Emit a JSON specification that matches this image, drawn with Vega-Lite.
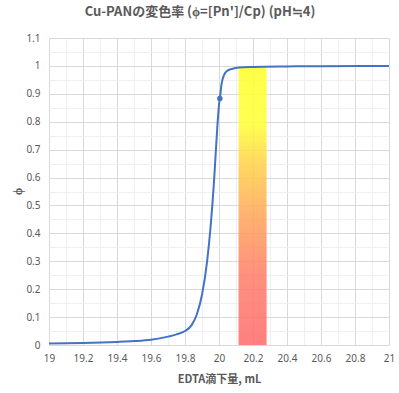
{
  "$schema": "https://vega.github.io/schema/vega-lite/v6.json",
  "autosize": {"type": "none"},
  "width": 340,
  "height": 307,
  "padding": {"left": 49, "top": 38, "right": 10, "bottom": 48},
  "background": "white",
  "config": {"view": {"stroke": null}, "font": "Noto Sans CJK JP"},
  "title": {
    "text": "Cu-PANの変色率 (ϕ=[Pn']/Cp) (pH≒4)",
    "fontSize": 13, "fontWeight": "bold", "color": "#595959",
    "anchor": "middle", "dx": -19, "offset": 14, "font": "Noto Sans CJK JP"
  },
  "datasets": {
    "curve": [
      {"edta": 19.0, "phi": 0.005},
      {"edta": 19.2, "phi": 0.007},
      {"edta": 19.4, "phi": 0.011},
      {"edta": 19.5, "phi": 0.014},
      {"edta": 19.6, "phi": 0.019},
      {"edta": 19.7, "phi": 0.03},
      {"edta": 19.75, "phi": 0.038},
      {"edta": 19.8, "phi": 0.05},
      {"edta": 19.84, "phi": 0.072},
      {"edta": 19.87, "phi": 0.11},
      {"edta": 19.9, "phi": 0.18},
      {"edta": 19.93, "phi": 0.3},
      {"edta": 19.95, "phi": 0.42},
      {"edta": 19.97, "phi": 0.58},
      {"edta": 19.98, "phi": 0.68},
      {"edta": 19.99, "phi": 0.78},
      {"edta": 20.0, "phi": 0.86},
      {"edta": 20.005, "phi": 0.883},
      {"edta": 20.015, "phi": 0.935},
      {"edta": 20.03, "phi": 0.968},
      {"edta": 20.05, "phi": 0.983},
      {"edta": 20.08, "phi": 0.99},
      {"edta": 20.12, "phi": 0.994},
      {"edta": 20.2, "phi": 0.996},
      {"edta": 20.4, "phi": 0.998},
      {"edta": 20.6, "phi": 0.999},
      {"edta": 21.0, "phi": 1.0}
    ],
    "marker": [{"edta": 20.005, "phi": 0.883}],
    "band": [{"start": 20.115, "end": 20.28, "low": 0, "high": 0.995}]
  },
  "resolve": {"axis": {"x": "independent", "y": "independent"}},
  "layer": [
    {
      "data": {"name": "band"},
      "mark": {
        "type": "rect", "opacity": 0.88,
        "color": {
          "gradient": "linear", "x1": 0, "y1": 0, "x2": 0, "y2": 1,
          "stops": [
            {"offset": 0, "color": "#ffff30"},
            {"offset": 0.2, "color": "#ffff3a"},
            {"offset": 0.35, "color": "#ffd24c"},
            {"offset": 0.55, "color": "#ffa45e"},
            {"offset": 0.75, "color": "#ff806c"},
            {"offset": 1, "color": "#ff6e6e"}
          ]
        }
      },
      "encoding": {
        "x": {"field": "start", "type": "quantitative", "scale": {"domain": [19, 21], "nice": false},
          "axis": {"orient": "bottom", "values": [19.1, 19.3, 19.5, 19.7, 19.9, 20.1, 20.3, 20.5, 20.7, 20.9],
            "grid": true, "gridColor": "#efefef", "labels": false, "ticks": false, "domain": false, "title": null}},
        "x2": {"field": "end"},
        "y": {"field": "low", "type": "quantitative", "scale": {"domain": [0, 1.1], "nice": false},
          "axis": {"orient": "left", "values": [0.05, 0.15, 0.25, 0.35, 0.45, 0.55, 0.65, 0.75, 0.85, 0.95, 1.05],
            "grid": true, "gridColor": "#efefef", "labels": false, "ticks": false, "domain": false, "title": null}},
        "y2": {"field": "high"}
      }
    },
    {
      "data": {"name": "curve"},
      "mark": {"type": "line", "color": "#4472c4", "strokeWidth": 2, "interpolate": "monotone"},
      "encoding": {
        "x": {"field": "edta", "type": "quantitative", "scale": {"domain": [19, 21], "nice": false},
          "axis": {"orient": "bottom", "values": [19, 19.2, 19.4, 19.6, 19.8, 20, 20.2, 20.4, 20.6, 20.8, 21],
            "format": ".1~f", "grid": true, "gridColor": "#d9d9d9", "ticks": false, "domain": false, "labelFlush": false,
            "labelColor": "#595959", "labelFontSize": 10, "labelPadding": 8, "labelFont": "Noto Sans",
            "title": "EDTA滴下量, mL", "titleColor": "#595959", "titleFontSize": 11, "titleFontWeight": "bold", "titlePadding": 10}},
        "y": {"field": "phi", "type": "quantitative", "scale": {"domain": [0, 1.1], "nice": false},
          "axis": {"orient": "left", "values": [0, 0.1, 0.2, 0.3, 0.4, 0.5, 0.6, 0.7, 0.8, 0.9, 1, 1.1],
            "format": ".1~f", "grid": true, "gridColor": "#d9d9d9", "ticks": false, "domain": false, "labelFlush": false,
            "labelColor": "#595959", "labelFontSize": 10, "labelPadding": 9, "labelFont": "Noto Sans",
            "title": "ϕ", "titleColor": "#595959", "titleFontSize": 12, "titleFontWeight": "bold",
            "titleX": -32, "titleY": 153, "titleAngle": -90, "titleAlign": "center", "titleBaseline": "middle"}}
      }
    },
    {
      "data": {"name": "marker"},
      "mark": {"type": "point", "filled": true, "color": "#4472c4", "size": 30, "opacity": 1},
      "encoding": {
        "x": {"field": "edta", "type": "quantitative", "scale": {"domain": [19, 21], "nice": false}, "axis": null},
        "y": {"field": "phi", "type": "quantitative", "scale": {"domain": [0, 1.1], "nice": false}, "axis": null}
      }
    }
  ]
}
